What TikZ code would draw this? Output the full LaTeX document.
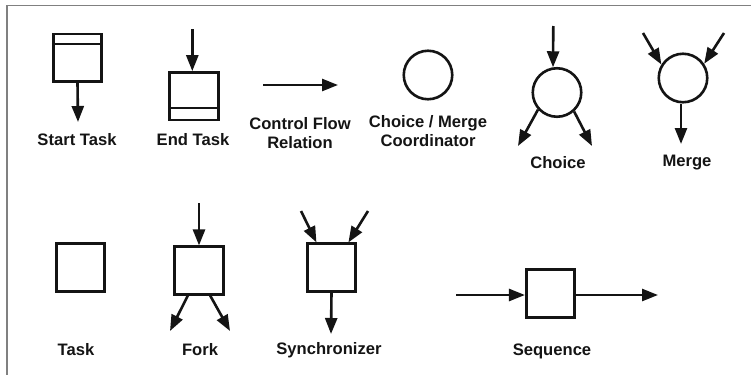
\documentclass[tikz,border=0pt]{standalone}
\usepackage{fontspec}
\setmainfont{Liberation Sans}
\usetikzlibrary{arrows.meta}
\begin{document}
\begin{tikzpicture}[x=1pt,y=-1pt,
  lbl/.style={font=\fontsize{16.6}{19}\selectfont\bfseries, text=black!92, align=center, inner sep=0pt},
  taskbox/.style={draw=black!92, line width=2.6pt, minimum width=48.5pt, minimum height=47.5pt, inner sep=0pt},
  coord/.style={draw=black!92, line width=2.6pt, circle, minimum size=48.5pt, inner sep=0pt},
  divider/.style={draw=black!92, line width=2.4pt},
  arr/.style={draw=black!92, line width=2.6pt, -{Triangle[length=16pt,width=12pt]}},
  frame/.style={draw=black!50, line width=1.2pt}]
\useasboundingbox (0,0) rectangle (751,375);

% outer frame (top and left edges)
\coordinate (ftl) at (7,5.5);
\coordinate (ftr) at (751,5.5);
\coordinate (fbl) at (7,375);
\draw[frame] (ftr) -- (ftl) -- (fbl);

% ---------- Start Task ----------
\node[taskbox] (start) at (77.5,57.8) {};
\draw[divider] ([yshift=-11pt]start.north west) -- ([yshift=-11pt]start.north east);
\coordinate (startout) at (78,122);
\draw[arr] (start.south) -- (startout);
\node[lbl] (lstart) at (77,140) {Start Task};

% ---------- End Task ----------
\node[taskbox] (end) at (194,96.2) {};
\draw[divider] ([yshift=13.5pt]end.south west) -- ([yshift=13.5pt]end.south east);
\coordinate (endin) at (192.3,29);
\draw[arr] (endin) -- (endin |- end.north);
\node[lbl] (lend) at (193,140) {End Task};

% ---------- Control Flow Relation ----------
\coordinate (cfa) at (263,85);
\coordinate (cfb) at (338,85);
\draw[arr] (cfa) -- (cfb);
\node[lbl] (lcf) at (300,133.5) {Control Flow\\Relation};

% ---------- Choice / Merge Coordinator ----------
\node[coord] (cm) at (428,75) {};
\node[lbl] (lcm) at (428,131) {Choice / Merge\\Coordinator};

% ---------- Choice ----------
\node[coord] (choice) at (557,92.5) {};
\coordinate (chin) at (553.3,26);
\coordinate (chl) at (518,146);
\coordinate (chr) at (592,146);
\draw[arr] (chin) -- (choice.99);
\draw[arr] (choice.222) -- (chl);
\draw[arr] (choice.312) -- (chr);
\node[lbl] (lchoice) at (558,163) {Choice};

% ---------- Merge ----------
\node[coord] (merge) at (683,78) {};
\coordinate (mgl) at (643,33);
\coordinate (mgr) at (724,33);
\coordinate (mgout) at (681,144);
\draw[arr] (mgl) -- (merge.148);
\draw[arr] (mgr) -- (merge.34);
\draw[arr] (merge.south -| mgout) -- (mgout);
\node[lbl] (lmerge) at (687,163) {Merge};

% ---------- Task ----------
\node[taskbox] (task) at (80.5,267.5) {};
\node[lbl] (ltask) at (76,350) {Task};

% ---------- Fork ----------
\node[taskbox] (fork) at (199,270.5) {};
\coordinate (fkin) at (199,203);
\coordinate (fkl) at (170,331);
\coordinate (fkr) at (230,331);
\draw[arr] (fkin) -- (fork.north);
\draw[arr] (fork.246) -- (fkl);
\draw[arr] (fork.294) -- (fkr);
\node[lbl] (lfork) at (200,350) {Fork};

% ---------- Synchronizer ----------
\node[taskbox] (sync) at (331.5,267.5) {};
\coordinate (syl) at (301,211);
\coordinate (syr) at (368,211);
\coordinate (syout) at (331,334);
\draw[arr] (syl) -- (sync.121);
\draw[arr] (syr) -- (sync.56);
\draw[arr] (sync.south) -- (syout);
\node[lbl] (lsync) at (329,350) {Synchronizer};

% ---------- Sequence ----------
\node[taskbox] (seq) at (550.5,293.5) {};
\coordinate (sqin) at (456,295);
\coordinate (sqout) at (658,295);
\draw[arr] (sqin) -- (sqin -| seq.west);
\draw[arr] (sqin -| seq.east) -- (sqout);
\node[lbl] (lseq) at (552,351) {Sequence};
\end{tikzpicture}
\end{document}
